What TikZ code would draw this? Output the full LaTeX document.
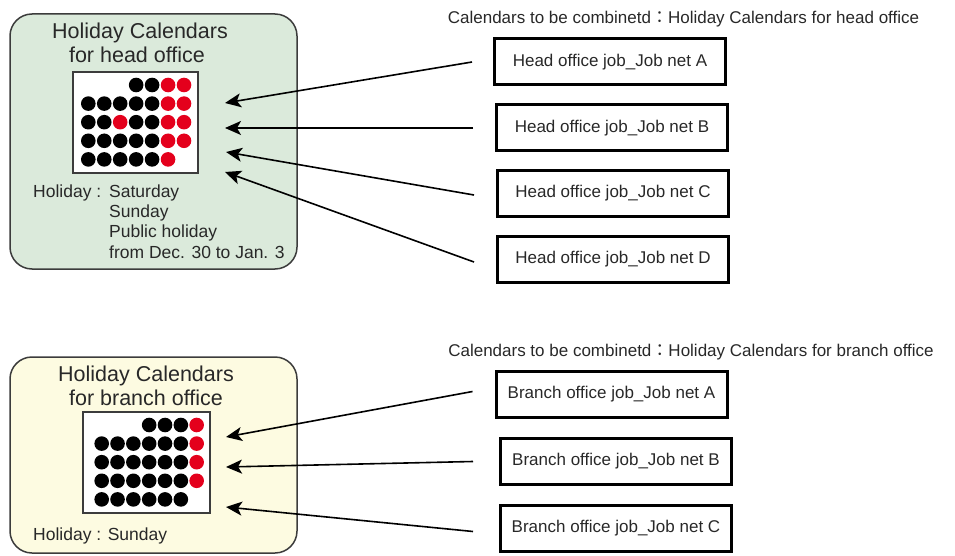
\documentclass[tikz,border=0pt]{standalone}
\usepackage{fontspec}
\setmainfont{Liberation Sans}
\newfontfamily\cjk{Noto Sans CJK JP}
\usetikzlibrary{arrows.meta}
\definecolor{hgreen}{RGB}{219,234,219}
\definecolor{byellow}{RGB}{253,251,225}
\definecolor{dred}{RGB}{228,0,28}
\definecolor{frame}{RGB}{60,60,60}
\definecolor{txt}{RGB}{40,40,40}
\begin{document}
\begin{tikzpicture}[x=1pt,y=-1pt,
 calbox/.style={draw=frame,line width=1.5pt,rounded corners=22pt},
 gridbox/.style={draw=frame,line width=2pt,fill=white},
 jobbox/.style={draw=black,line width=3pt,minimum width=231pt,minimum height=46pt,inner sep=0pt,font=\fontsize{17}{20}\selectfont,text=txt},
 title/.style={anchor=base,font=\fontsize{21.5}{25}\selectfont,text=txt,inner sep=0pt},
 small/.style={anchor=base west,font=\fontsize{17.5}{20}\selectfont,text=txt,inner sep=0pt},
 header/.style={anchor=base,font=\fontsize{17}{20}\selectfont,text=txt,inner sep=0pt},
 arr/.style={line width=1.6pt,-{Stealth[length=16pt,width=14pt,inset=4pt]}},
 bdot/.style={fill=black},
 rdot/.style={fill=dred}]
\useasboundingbox (0,0) rectangle (955,556);

% ---------- head office calendar ----------
\draw[calbox,fill=hgreen] (10,14) rectangle (297,269);
\node[title] (th1) at (140,38.5) {Holiday Calendars};
\node[title] (th2) at (137,63) {for head office};
\draw[gridbox] (73,72) rectangle (198,173);
\foreach \r/\c/\k in {1/4/bdot,1/5/bdot,1/6/rdot,1/7/rdot,
  2/1/bdot,2/2/bdot,2/3/bdot,2/4/bdot,2/5/bdot,2/6/rdot,2/7/rdot,
  3/1/bdot,3/2/bdot,3/3/rdot,3/4/bdot,3/5/bdot,3/6/rdot,3/7/rdot,
  4/1/bdot,4/2/bdot,4/3/bdot,4/4/bdot,4/5/bdot,4/6/rdot,4/7/rdot,
  5/1/bdot,5/2/bdot,5/3/bdot,5/4/bdot,5/5/bdot,5/6/rdot}
  \path[\k] ({88.3+15.95*(\c-1)},{85+18.6*(\r-1)}) circle (7.3pt);
\node[small] (hol) at (33,197) {Holiday :};
\node[small] (s1) at (109,197) {Saturday};
\node[small] (s2) at (109,217) {Sunday};
\node[small] (s3) at (109,237.5) {Public holiday};
\node[small] (s4) at (109,258) {from Dec. 30 to Jan. 3};

% ---------- branch office calendar ----------
\draw[calbox,fill=byellow] (10,357) rectangle (297,553);
\node[title] (tb1) at (146,381.7) {Holiday Calendars};
\node[title] (tb2) at (146,405) {for branch office};
\draw[gridbox] (83,412) rectangle (210,513);
\foreach \r/\c/\k in {1/4/bdot,1/5/bdot,1/6/bdot,1/7/rdot,
  2/1/bdot,2/2/bdot,2/3/bdot,2/4/bdot,2/5/bdot,2/6/bdot,2/7/rdot,
  3/1/bdot,3/2/bdot,3/3/bdot,3/4/bdot,3/5/bdot,3/6/bdot,3/7/rdot,
  4/1/bdot,4/2/bdot,4/3/bdot,4/4/bdot,4/5/bdot,4/6/bdot,4/7/rdot,
  5/1/bdot,5/2/bdot,5/3/bdot,5/4/bdot,5/5/bdot,5/6/bdot}
  \path[\k] ({101.7+15.83*(\c-1)},{425+18.6*(\r-1)}) circle (7.3pt);
\node[small] (bhol) at (33,540.7) {Holiday : Sunday};

% ---------- headers ----------
\node[header] (hh) at (683.5,23.3) {Calendars to be combinetd{\cjk ：}Holiday Calendars for head office};
\node[header] (bh) at (691,356) {Calendars to be combinetd{\cjk ：}Holiday Calendars for branch office};

% ---------- job boxes ----------
\node[jobbox] (hA) at (610,62) {Head office job\_Job net A};
\node[jobbox] (hB) at (612,128) {Head office job\_Job net B};
\node[jobbox] (hC) at (613,193.5) {Head office job\_Job net C};
\node[jobbox] (hD) at (613,259.5) {Head office job\_Job net D};
\node[jobbox] (bA) at (611.5,394.5) {Branch office job\_Job net A};
\node[jobbox] (bB) at (616,461.5) {Branch office job\_Job net B};
\node[jobbox] (bC) at (616,528.5) {Branch office job\_Job net C};

% ---------- arrow targets ----------
\coordinate (tA) at (225,103);
\coordinate (tB) at (225,128);
\coordinate (tC) at (226,152);
\coordinate (tD) at (225,172);
\coordinate (uA) at (226,437);
\coordinate (uB) at (226,467);
\coordinate (uC) at (226,507);

\draw[arr] ([xshift=-21pt]hA.west) -- (tA);
\draw[arr] ([xshift=-22pt]hB.west) -- (tB);
\draw[arr] ([xshift=-22pt,yshift=-1.5pt]hC.west) -- (tC);
\draw[arr] ([xshift=-22pt,yshift=-2.5pt]hD.west) -- (tD);
\draw[arr] ([xshift=-22pt,yshift=3pt]bA.west) -- (uA);
\draw[arr] ([xshift=-26pt]bB.west) -- (uB);
\draw[arr] ([xshift=-26pt,yshift=-3pt]bC.west) -- (uC);
\end{tikzpicture}
\end{document}
